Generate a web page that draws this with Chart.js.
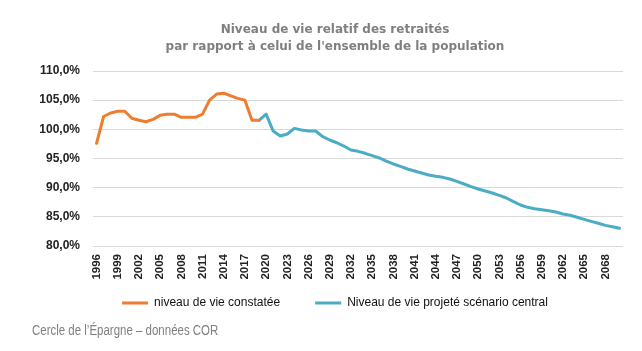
<!DOCTYPE html>
<html>
<head>
<meta charset="utf-8">
<script src="https://cdn.jsdelivr.net/npm/chart.js@4/dist/chart.umd.min.js"></script>
<style>
  html, body { margin: 0; padding: 0; background: #fff; }
  #wrap { position: relative; width: 642px; height: 351px; }
  #note { position: absolute; left: 32px; top: 322px; font-family: 'Liberation Sans', Arial, sans-serif; font-size: 14px; line-height: 16px; color: #7f7f7f; white-space: nowrap; transform: scaleX(0.82); transform-origin: 0 0; }
</style>
</head>
<body>
<div id="wrap">
  <canvas id="c" width="642" height="351"></canvas>
  <div id="note">Cercle de l’Épargne – données COR</div>
</div>
<script>
// Categories: years 1996..2070
const years = [
  '1996','1997','1998','1999','2000','2001','2002','2003','2004','2005',
  '2006','2007','2008','2009','2010','2011','2012','2013','2014','2015',
  '2016','2017','2018','2019','2020','2021','2022','2023','2024','2025',
  '2026','2027','2028','2029','2030','2031','2032','2033','2034','2035',
  '2036','2037','2038','2039','2040','2041','2042','2043','2044','2045',
  '2046','2047','2048','2049','2050','2051','2052','2053','2054','2055',
  '2056','2057','2058','2059','2060','2061','2062','2063','2064','2065',
  '2066','2067','2068','2069','2070'
];

// Observed (1996-2019), in %
const observed = [
  97.6, 102.2, 102.8, 103.1, 103.1, 101.9, 101.55, 101.3, 101.7, 102.4,
  102.6, 102.6, 102.06, 102.06, 102.06, 102.6, 105.0, 106.05, 106.2, 105.75,
  105.3, 105.0, 101.55, 101.55
];

// Projected central scenario (2019-2070), in %
const projected = [
  101.55, 102.6, 99.7, 98.85, 99.2, 100.17, 99.9, 99.71, 99.71, 98.74,
  98.17, 97.7, 97.14, 96.46, 96.23, 95.89, 95.48, 95.09, 94.57, 94.06,
  93.66, 93.2, 92.86, 92.51, 92.17, 91.95, 91.77, 91.49, 91.09, 90.63,
  90.17, 89.77, 89.43, 89.09, 88.69, 88.23, 87.6, 87.03, 86.63, 86.4,
  86.22, 86.05, 85.83, 85.49, 85.26, 84.92, 84.57, 84.23, 83.89, 83.54,
  83.31, 83.03
];

const seriesNames = ['niveau de vie constatée', 'Niveau de vie projeté scénario central'];
const titleLines = ['Niveau de vie relatif des retraités', "par rapport à celui de l'ensemble de la population"];
const yTicks = { min: 80, max: 110, step: 5 };

const projStart = years.indexOf('2019');
const obsData = years.map((y, i) => i < observed.length ? observed[i] : null);
const projData = years.map((y, i) => i >= projStart ? projected[i - projStart] : null);

const ORANGE = '#ED7D31';
const BLUE = '#4BACC6';

const legendShift = {
  id: 'legendShift',
  afterLayout(chart) {
    if (chart.legend) { chart.legend.top -= 20; chart.legend.bottom -= 20; }
  }
};

new Chart(document.getElementById('c'), {
  type: 'line',
  data: {
    labels: years,
    datasets: [
      { label: seriesNames[0], data: obsData, borderColor: ORANGE, backgroundColor: ORANGE,
        borderWidth: 3, pointRadius: 0, tension: 0, borderJoinStyle: 'round', borderCapStyle: 'round', spanGaps: false },
      { label: seriesNames[1], data: projData, borderColor: BLUE, backgroundColor: BLUE,
        borderWidth: 3, pointRadius: 0, tension: 0, borderJoinStyle: 'round', borderCapStyle: 'round', spanGaps: false }
    ]
  },
  plugins: [legendShift],
  options: {
    responsive: false,
    animation: false,
    devicePixelRatio: 1,
    layout: { padding: { left: 38, right: 10, top: 0, bottom: 12 } },
    plugins: {
      tooltip: { enabled: false },
      title: {
        display: true,
        text: titleLines,
        color: '#7f7f7f',
        font: { family: 'DejaVu Sans', size: 12, weight: 'bold', lineHeight: 1.375 },
        padding: { top: 22, bottom: 16 }
      },
      legend: {
        position: 'bottom',
        align: 'center',
        labels: {
          boxWidth: 26,
          boxHeight: 3,
          padding: 35,
          color: '#111',
          font: { family: 'Liberation Sans', size: 12 },
          generateLabels: (chart) => Chart.defaults.plugins.legend.labels.generateLabels(chart).map(it => {
            it.lineWidth = 0; it.fillStyle = it.strokeStyle; return it;
          })
        }
      }
    },
    scales: {
      x: {
        offset: true,
        grid: { display: false, drawTicks: false },
        border: { display: false },
        ticks: {
          autoSkip: false,
          minRotation: 90,
          maxRotation: 90,
          padding: 8,
          color: '#222',
          font: { family: 'Liberation Sans', size: 11.5, weight: 'bold' },
          callback: function (v, i) { return i % 3 === 0 ? years[i] : null; }
        },
        afterFit: (s) => { s.height = 36; }
      },
      y: {
        min: yTicks.min,
        max: yTicks.max,
        grid: { color: '#d9d9d9', lineWidth: 1, drawTicks: false },
        border: { display: false },
        ticks: {
          stepSize: yTicks.step,
          padding: 13,
          color: '#222',
          font: { family: 'Liberation Sans', size: 12, weight: 'bold' },
          callback: (v) => v.toFixed(1).replace('.', ',') + '%'
        },
        afterFit: (s) => { s.width = 55; }
      },
      yR: {
        type: 'linear',
        position: 'right',
        grid: { display: false, drawTicks: false },
        border: { display: false },
        ticks: { display: false },
        afterFit: (s) => { s.width = 9; }
      }
    }
  }
});
</script>
</body>
</html>
